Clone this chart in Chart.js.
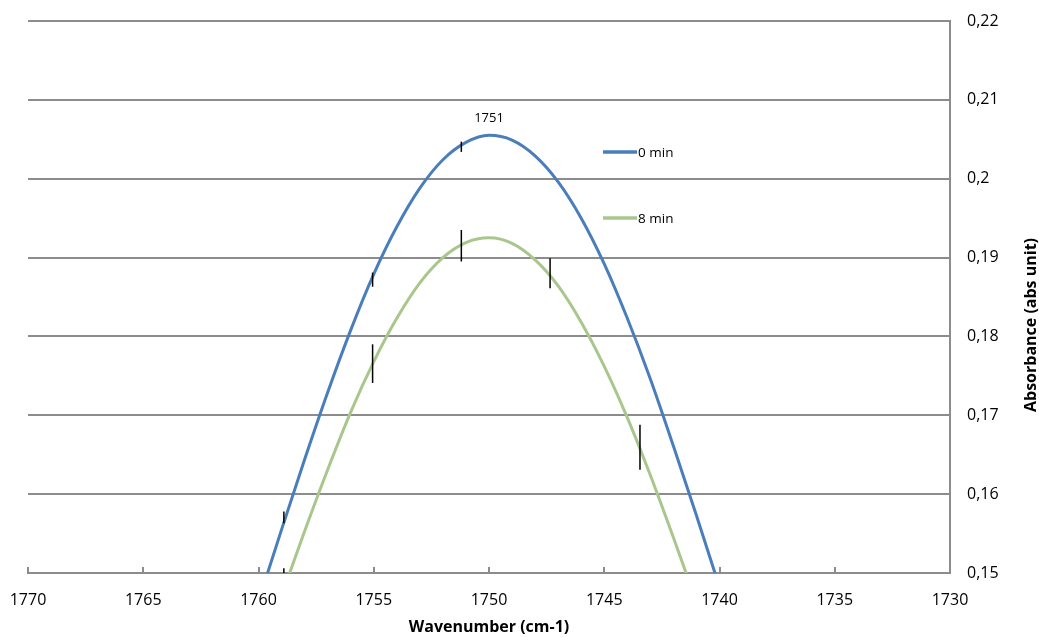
<!DOCTYPE html>
<html>
<head>
    <meta charset="utf-8">
    <title>Absorbance vs wavenumber</title>
    <script src="https://cdn.jsdelivr.net/npm/chart.js"></script>
    <style>
      html, body { margin: 0; padding: 0; background: #fff; }
      #wrap { width: 1039px; height: 637px; }
    </style>
</head>
<body>
<div id="wrap"><canvas id="specChart" width="1039" height="637"></canvas></div>

<script>
    // wavenumbers (cm-1) for both curves
    const wavenumbers = [1760, 1759, 1758, 1757, 1756, 1755, 1754, 1753, 1752, 1751, 1750,
                         1749, 1748, 1747, 1746, 1745, 1744, 1743, 1742, 1741, 1740];
    // absorbance, 0 min
    const abs0 = [0.1464, 0.1555, 0.1644, 0.1729, 0.1808, 0.1879, 0.1939, 0.1988, 0.2024, 0.2046, 0.2055,
                  0.2049, 0.2029, 0.1996, 0.1950, 0.1892, 0.1823, 0.1746, 0.1661, 0.1573, 0.1482];
    // absorbance, 8 min
    const abs8 = [0.1389, 0.1471, 0.1553, 0.1631, 0.1704, 0.1768, 0.1823, 0.1868, 0.1900, 0.1919, 0.1925,
                  0.1918, 0.1897, 0.1864, 0.1818, 0.1762, 0.1697, 0.1624, 0.1545, 0.1463, 0.1381];

    const seriesNames = ['0 min', '8 min'];

    // error bars: [wavenumber, low, high]
    const errBars0 = [[1758.9, 0.1563, 0.1578], [1755.05, 0.1863, 0.1881], [1751.2, 0.2034, 0.2047]];
    const errBars8 = [[1758.9, 0.1500, 0.1506], [1755.05, 0.1741, 0.1790], [1751.2, 0.1895, 0.1935],
                      [1747.35, 0.1861, 0.1899], [1743.45, 0.1631, 0.1688]];

    // peak label
    const peakLabel = { text: '1751', x: 1750, y: 0.2077 };

    const xTickLabels = ['1730', '1735', '1740', '1745', '1750', '1755', '1760', '1765', '1770'];
    const yTickLabels = ['0,15', '0,16', '0,17', '0,18', '0,19', '0,2', '0,21', '0,22'];

    const BLUE = '#4a7ebb';
    const GREEN = '#a9c78c';
    const GRID = '#8c8c8c';
    const FONT = '"Open Sans", Lato, sans-serif';

    // extra drawing: x tick marks, error bars, peak label, legend, y title
    const extras = {
      id: 'extras',
      afterDatasetsDraw(chart) {
        const ctx = chart.ctx;
        const x = chart.scales.x, y = chart.scales.y;
        const area = chart.chartArea;
        ctx.save();

        // small tick marks pointing up from the x axis
        ctx.strokeStyle = GRID;
        ctx.lineWidth = 2;
        x.ticks.forEach(t => {
          const px = Math.round(x.getPixelForValue(t.value));
          ctx.beginPath();
          ctx.moveTo(px, area.bottom);
          ctx.lineTo(px, area.bottom - 6);
          ctx.stroke();
        });

        // error bars
        ctx.strokeStyle = '#000';
        ctx.lineWidth = 1.5;
        errBars0.concat(errBars8).forEach(([w, lo, hi]) => {
          const px = x.getPixelForValue(w);
          ctx.beginPath();
          ctx.moveTo(px, y.getPixelForValue(lo));
          ctx.lineTo(px, y.getPixelForValue(hi));
          ctx.stroke();
        });

        // peak label
        ctx.fillStyle = '#000';
        ctx.font = '13px ' + FONT;
        ctx.textAlign = 'center';
        ctx.textBaseline = 'middle';
        ctx.fillText(peakLabel.text, x.getPixelForValue(peakLabel.x), y.getPixelForValue(peakLabel.y));

        // legend inside the plot
        const legX = 603, legY = [152, 218];
        chart.data.datasets.forEach((ds, i) => {
          ctx.strokeStyle = ds.borderColor;
          ctx.lineWidth = 3.5;
          ctx.beginPath();
          ctx.moveTo(legX, legY[i]);
          ctx.lineTo(legX + 34, legY[i]);
          ctx.stroke();
          ctx.fillStyle = '#000';
          ctx.font = '13.5px ' + FONT;
          ctx.textAlign = 'left';
          ctx.fillText(ds.label, legX + 35, legY[i] + 1);
        });

        // y axis title (reads bottom to top)
        ctx.translate(1031, 325);
        ctx.rotate(-Math.PI / 2);
        ctx.font = 'bold 16px ' + FONT;
        ctx.textAlign = 'center';
        ctx.fillText('Absorbance (abs unit)', 0, 0);
        ctx.restore();
      }
    };

    const toPoints = (ys) => wavenumbers.map((w, i) => ({ x: w, y: ys[i] }));

    const ctx = document.getElementById('specChart').getContext('2d');
    const chart = new Chart(ctx, {
        type: 'line',
        data: {
            datasets: [{
                label: seriesNames[0],
                data: toPoints(abs0),
                borderColor: BLUE,
                borderWidth: 3,
                pointRadius: 0,
                cubicInterpolationMode: 'monotone',
                fill: false
            }, {
                label: seriesNames[1],
                data: toPoints(abs8),
                borderColor: GREEN,
                borderWidth: 3,
                pointRadius: 0,
                cubicInterpolationMode: 'monotone',
                fill: false
            }]
        },
        options: {
            responsive: false,
            animation: false,
            layout: { padding: { left: 28, top: 21, right: 0, bottom: 0 } },
            plugins: {
                legend: { display: false },
                tooltip: { enabled: false }
            },
            scales: {
                x: {
                    type: 'linear',
                    reverse: true,
                    min: 1730,
                    max: 1770,
                    afterFit: s => { s.height = 64; },
                    afterBuildTicks: s => {
                        s.ticks = xTickLabels.map(v => ({ value: Number(v) }));
                    },
                    grid: { display: false, drawTicks: false },
                    border: { display: true, color: GRID, width: 2 },
                    ticks: {
                        padding: 18,
                        color: '#000',
                        font: { family: FONT, size: 16 },
                        maxRotation: 0,
                        callback: (v, i) => xTickLabels[i]
                    },
                    title: {
                        display: true,
                        text: 'Wavenumber (cm-1)',
                        color: '#000',
                        font: { family: FONT, size: 16, weight: 'bold' },
                        padding: { top: 0, bottom: 0 }
                    }
                },
                y: {
                    position: 'right',
                    min: 0.15,
                    max: 0.22,
                    afterFit: s => { s.width = 89; s.paddingTop = 0; s.paddingBottom = 0; },
                    afterBuildTicks: s => {
                        s.ticks = yTickLabels.map((t, i) => ({ value: Math.round((0.15 + i * 0.01) * 100) / 100 }));
                    },
                    grid: { color: GRID, lineWidth: 2, drawTicks: false },
                    border: { display: true, color: GRID, width: 2 },
                    ticks: {
                        padding: 17,
                        color: '#000',
                        font: { family: FONT, size: 16 },
                        callback: (v, i) => yTickLabels[i]
                    }
                }
            }
        },
        plugins: [extras]
    });
</script>
</body>
</html>
